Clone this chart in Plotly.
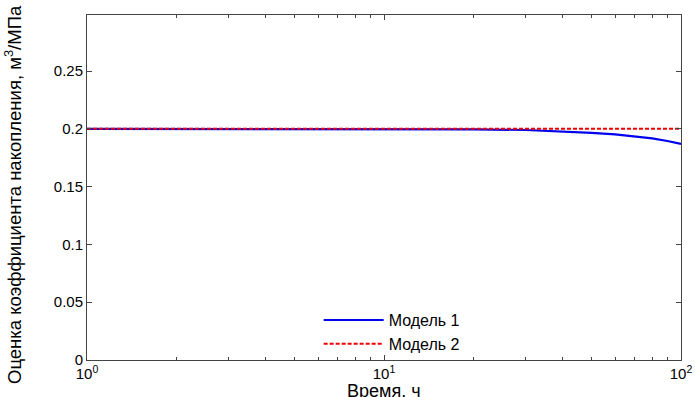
import plotly.graph_objects as go

time_h = [1, 2, 3, 5, 7, 10, 15, 20, 30, 40, 50, 60, 70, 80, 90, 100]
model1 = [0.2, 0.2, 0.2, 0.2, 0.2, 0.2, 0.2, 0.1996, 0.199, 0.1978, 0.1965, 0.1952, 0.1935, 0.1918, 0.1895, 0.187]
model2 = [0.2] * len(time_h)
names = ["Модель 1", "Модель 2"]
ytick_vals = [0, 0.05, 0.1, 0.15, 0.2, 0.25]
ytick_text = ["0", "0.05", "0.1", "0.15", "0.2", "0.25"]
xtick_vals = [1, 10, 100]
xtick_text = ["10<sup>0</sup>", "10<sup>1</sup>", "10<sup>2</sup>"]
minor_vals = [2, 3, 4, 5, 6, 7, 8, 9, 20, 30, 40, 50, 60, 70, 80, 90]

FONT = "Liberation Sans, Arial, sans-serif"
AX = "#444444"

fig = go.Figure()
fig.add_trace(go.Scatter(x=time_h, y=model1, mode="lines", name=names[0],
                         line=dict(color="#0000ee", width=2.2)))
fig.add_trace(go.Scatter(x=time_h, y=model2, mode="lines", name=names[1],
                         line=dict(color="#ee0000", width=2, dash="4px,2px")))

fig.update_layout(
    width=695, height=397,
    margin=dict(l=87, r=14, t=15, b=37),
    paper_bgcolor="white", plot_bgcolor="white",
    font=dict(family=FONT, size=15, color="black"),
    showlegend=True,
    legend=dict(x=0.39, y=0.165, xanchor="left", yanchor="top",
                bgcolor="rgba(0,0,0,0)", borderwidth=0,
                font=dict(family=FONT, size=16), tracegroupgap=0,
                itemwidth=60),
    xaxis=dict(type="log", range=[0, 2], showgrid=False, zeroline=False,
               automargin=False,
               showline=True, linecolor=AX, linewidth=1, mirror="allticks",
               ticks="inside", ticklen=5, tickcolor=AX,
               tickmode="array", tickvals=xtick_vals, ticktext=xtick_text,
               tickfont=dict(family=FONT, size=15),
               minor=dict(ticks="inside", ticklen=3, tickcolor=AX,
                          tickmode="array", tickvals=minor_vals, showgrid=False)),
    yaxis=dict(range=[0, 0.2985], showgrid=False, zeroline=False,
               automargin=False,
               showline=True, linecolor=AX, linewidth=1, mirror="allticks",
               ticks="inside", ticklen=5, tickcolor=AX,
               tickmode="array", tickvals=ytick_vals, ticktext=ytick_text,
               tickfont=dict(family=FONT, size=15)),
)

fig.add_annotation(text="Время, ч", xref="paper", yref="paper",
                   x=0.5, y=-(391 - 360) / 345, xanchor="center", yanchor="middle",
                   showarrow=False, font=dict(family=FONT, size=18))
fig.add_annotation(text="Оценка коэффициента накопления, м<sup>3</sup>/МПа",
                   xref="paper", yref="paper",
                   x=(13 - 87) / 594, y=(360 - 195) / 345, xanchor="center", yanchor="middle",
                   textangle=-90, showarrow=False, font=dict(family=FONT, size=18.5))

fig.write_html("out.html")
